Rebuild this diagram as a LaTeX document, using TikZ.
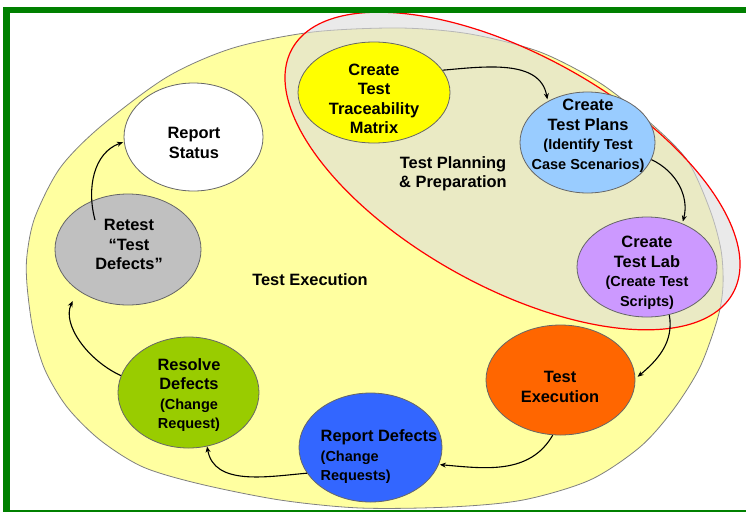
\documentclass[tikz,border=0pt]{standalone}
\usepackage{fontspec}
\setmainfont{Liberation Sans}
\usetikzlibrary{shapes.geometric,arrows.meta,calc}
\definecolor{frameg}{RGB}{0,128,0}
\definecolor{bigyel}{RGB}{255,255,160}
\definecolor{plangray}{RGB}{220,220,220}
\definecolor{ctrace}{RGB}{255,255,0}
\definecolor{cplans}{RGB}{153,204,255}
\definecolor{clab}{RGB}{204,153,255}
\definecolor{cte}{RGB}{255,102,0}
\definecolor{crd}{RGB}{51,102,255}
\definecolor{cres}{RGB}{153,204,0}
\definecolor{cret}{RGB}{192,192,192}
\newcommand\pth{\fontsize{14.5}{18}\selectfont}
\tikzset{
  stage/.style={ellipse, draw=black!60, line width=0.8pt, inner sep=0pt},
  lbl/.style={font=\bfseries\fontsize{16.4}{19.5}\selectfont, align=center, inner sep=0pt},
  arr/.style={-{Stealth[length=6pt,width=5pt]}, line width=1.1pt, black},
}
\begin{document}
\begin{tikzpicture}[x=1pt,y=1pt]
\useasboundingbox (0,0) rectangle (746,-512);
\fill[white] (0,0) rectangle (746,-512);
% big yellow region
\draw[fill=bigyel, draw=black!50, line width=0.8pt] plot[smooth cycle] coordinates {
 (27,-285) (33,-330) (45,-370) (67,-407) (100,-440) (143,-467) (200,-484)
 (280,-500) (360,-508) (450,-507) (523,-500) (590,-480) (640,-447) (673,-410)
 (700,-367) (718,-317) (723,-285) (721,-250) (710,-210) (687,-160) (647,-120)
 (600,-83) (540,-52) (470,-34) (400,-28) (313,-32) (233,-48) (167,-77)
 (100,-127) (60,-168) (35,-217) (27,-255)};
% planning region
\draw[red, line width=1.2pt, fill=plangray, fill opacity=0.6]
  (512.5,-171) ellipse [x radius=252, y radius=116, rotate=-29];
% stages
\node[stage, fill=ctrace, minimum width=152pt, minimum height=101pt] (trace) at (374,-92.5) {};
\node[stage, fill=cplans, minimum width=135pt, minimum height=101pt] (plans) at (587.5,-142.5) {};
\node[stage, fill=clab, minimum width=140pt, minimum height=100pt] (lab) at (647,-267) {};
\node[stage, fill=cte, minimum width=149pt, minimum height=110pt] (te) at (560.5,-380) {};
\node[stage, fill=crd, minimum width=143pt, minimum height=109pt] (rd) at (370.5,-447.5) {};
\node[stage, fill=cres, minimum width=141pt, minimum height=111pt] (res) at (188.5,-392.5) {};
\node[stage, fill=cret, minimum width=146pt, minimum height=111pt] (ret) at (128,-249.5) {};
\node[stage, fill=white, minimum width=139pt, minimum height=108pt] (stat) at (193.5,-137) {};
% texts
\node[lbl] (ttrace) at (374,-99) {Create\\Test\\Traceability\\Matrix};
\node[lbl] (tplans) at (588,-136) {Create\\Test Plans\\{\pth (Identify Test}\\{\pth Case Scenarios)}};
\node[lbl] (tlab) at (647,-273) {Create\\Test Lab\\{\pth (Create Test}\\{\pth Scripts)}};
\node[lbl] (tte) at (560,-387) {Test\\Execution};
\node[lbl, align=left] (trd) at (379,-457) {Report Defects\\{\pth (Change}\\{\pth Requests)}};
\node[lbl] (tres) at (189,-395) {Resolve\\Defects\\{\pth (Change}\\{\pth Request)}};
\node[lbl] (tret) at (129,-244.5) {Retest\\“Test\\Defects”};
\node[lbl] (tstat) at (194,-143) {Report\\Status};
\node[lbl] (tplan) at (453,-174) {Test Planning\\\& Preparation};
\node[lbl] (texec) at (310,-280) {Test Execution};
% connectors
\draw[arr, shorten >=2pt] (trace.18) to[out=5, in=100] (plans.134);
\draw[arr, shorten >=2pt] (plans.-15) to[out=-25, in=75] (lab.51);
\draw[arr, shorten >=3pt] (lab.-65) to[out=-80, in=40] (te.1);
\draw[arr, shorten >=1pt] (te.-98) to[out=-120, in=-5] (rd.-14);
\draw[arr] (rd.-158) to[out=185, in=-80] (res.-71);
\draw[arr, shorten >=12pt] (res.166) to[out=155, in=-115] (ret.-141);
\draw[arr, shorten >=1pt] ($(ret.center)+(-33,29.5)$) to[out=105, in=200] (stat.184);
% frame
\fill[frameg] (3,-7) rectangle (746,-13.3);
\fill[frameg] (3,-7) rectangle (9.5,-512);
\fill[frameg] (3,-509.5) rectangle (746,-512);
\end{tikzpicture}
\end{document}
